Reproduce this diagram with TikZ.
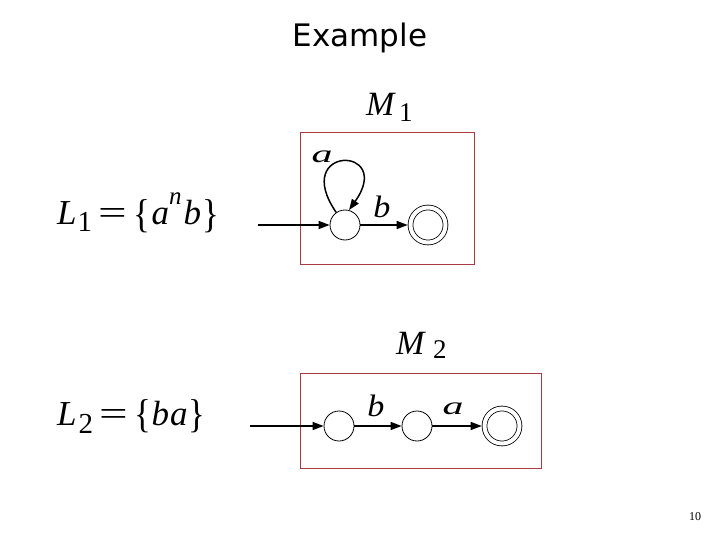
\documentclass[tikz,border=0pt]{standalone}
\usepackage{fontspec}
\setmainfont{Liberation Serif}
\newfontfamily\titlefont{DejaVu Sans}
\usetikzlibrary{arrows.meta}
\definecolor{boxred}{RGB}{168,58,68}
\newcommand{\wideeq}{\scalebox{1.45}[1]{=}}
\newcommand{\lbr}{\raisebox{-2pt}{\scalebox{1}[1.15]{\{}}}
\newcommand{\rbr}{\raisebox{-2pt}{\scalebox{1}[1.15]{\}}}}
\begin{document}
\begin{tikzpicture}[x=1pt,y=-1pt,
  state/.style={circle,draw,line width=0.8pt,minimum size=30pt,inner sep=0pt},
  accept/.style={circle,draw,line width=0.8pt,double,double distance=4pt,minimum size=35pt,inner sep=0pt,outer sep=2.8pt},
  edge/.style={line width=1.5pt,-{Triangle[length=11pt,width=8pt]}},
  frame/.style={draw=boxred,line width=1pt},
  lab/.style={font=\fontsize{31}{33}\selectfont\itshape,inner sep=0pt},
  formula/.style={font=\fontsize{35}{40}\selectfont,inner sep=0pt,anchor=base west},
  mname/.style={font=\fontsize{34}{36}\selectfont,inner sep=0pt,anchor=base west}]
\useasboundingbox (0,0) rectangle (720,540);
% title
\node[font=\titlefont\fontsize{31}{34}\selectfont,inner sep=0pt] (title) at (360,38) {Example};
% M1
\node[mname] (m1) at (366,116) {\textit{M}\hspace{3pt}\raisebox{-6pt}{\fontsize{27}{28}\selectfont 1}};
\draw[frame] (300,133) rectangle (474,264);
\node[formula] (l1) at (57,225) {\textit{L}\hspace{1pt}\raisebox{-6pt}{\fontsize{29}{30}\selectfont 1}\hspace{6pt}\wideeq\hspace{7pt}\lbr\hspace{1pt}\textit{a}\raisebox{20pt}{\fontsize{25}{26}\selectfont\textit{n}}\hspace{2pt}\textit{b}\hspace{1pt}\rbr};
\coordinate (s1) at (258,225);
\node[state] (p0) at (345,225) {};
\node[accept] (p1) at (428,225) {};
\draw[edge] (s1) -- (p0);
\draw[edge] (p0) -- (p1);
\draw[edge] (p0.125) .. controls (290,145) and (395,145) .. (p0.75);
\node[lab] (la1) at (322,157) {\scalebox{1.35}[0.8]{a}};
\node[lab] (lb1) at (382,207) {\scalebox{1.1}[1]{b}};
% M2
\node[mname] (m2) at (396,354) {\textit{M}\hspace{7pt}\raisebox{-4pt}{\fontsize{27}{28}\selectfont 2}};
\draw[frame] (300,373) rectangle (541,468);
\node[formula] (l2) at (57,425) {\textit{L}\hspace{2pt}\raisebox{-8pt}{\fontsize{29}{30}\selectfont 2}\hspace{6pt}\wideeq\hspace{7pt}\lbr\textit{b\hspace{1pt}a}\hspace{1pt}\rbr};
\coordinate (s2) at (250,426);
\node[state] (q0) at (339,426) {};
\node[state] (q1) at (417,426) {};
\node[accept] (q2) at (502,426) {};
\draw[edge] (s2) -- (q0);
\draw[edge] (q0) -- (q1);
\draw[edge] (q1) -- (q2);
\node[lab] (lb2) at (376,406) {\scalebox{1.1}[1]{b}};
\node[lab] (la2) at (453,409) {\scalebox{1.35}[0.8]{a}};
% page number
\node[font=\fontsize{12}{14}\selectfont,inner sep=0pt] (pg) at (695,517) {10};
\end{tikzpicture}
\end{document}
